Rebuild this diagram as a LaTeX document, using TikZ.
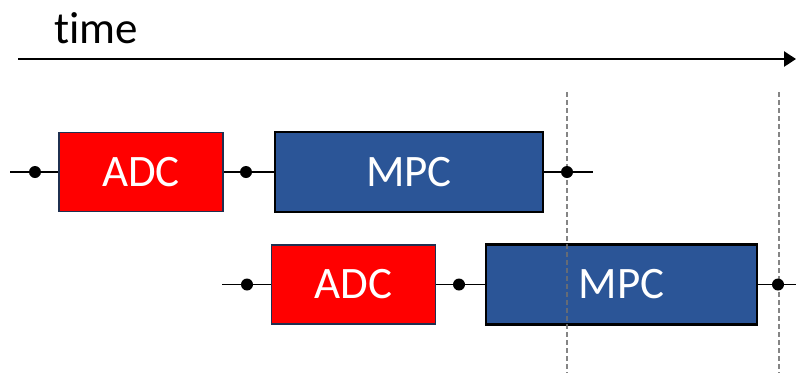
\documentclass[tikz,border=0pt]{standalone}
\usepackage{fontspec}
\setmainfont{Carlito}[Ligatures=NoCommon]
\usetikzlibrary{arrows.meta}
\definecolor{adcred}{HTML}{FF0000}
\definecolor{adcedge}{HTML}{1F3050}
\definecolor{mpcblue}{HTML}{2B5597}
\definecolor{guide}{HTML}{707070}
\tikzset{
  x=1pt, y=-1pt,
  adcbox/.style={draw=adcedge, line width=1.6pt, fill=adcred, text=white,
    minimum width=164pt, minimum height=79pt, inner sep=0pt,
    font=\fontsize{45}{50}\selectfont},
  mpcbox/.style={draw=black, line width=2.2pt, fill=mpcblue, text=white,
    minimum height=80pt, inner sep=0pt, font=\fontsize{45}{50}\selectfont},
  link/.style={line width=1.3pt},
  dotnode/.style={circle, fill=black, inner sep=0pt, minimum size=12pt},
  guideline/.style={draw=guide, line width=1.4pt, dash pattern=on 5pt off 3pt, opacity=0.85},
}
\begin{document}
\begin{tikzpicture}
\useasboundingbox (0,0) rectangle (796,373);

% time axis
\node[anchor=base west, inner sep=0pt, font=\fontsize{45}{50}\selectfont] (tlabel) at (54,43) {time};
\coordinate (t0) at (18,59);
\coordinate (t1) at (796,59);
\draw[line width=2.8pt, -{Triangle[length=12pt,width=15pt]}] (t0) -- (t1);

% blocks of the two cycles
\node[adcbox] (adc1) at (141,172) {ADC};
\node[mpcbox, minimum width=268pt] (mpc1) at (409,172) {MPC};
\node[adcbox] (adc2) at (353.5,284.5) {ADC};
\node[mpcbox, minimum width=271pt] (mpc2) at (621.5,284.5) {MPC};

% sampling instants
\coordinate (g1t) at (567,92);
\coordinate (g1b) at (567,373);
\coordinate (g2t) at (779,92);
\coordinate (g2b) at (779,373);
\draw[guideline] (g1t) -- (g1b);
\draw[guideline] (g2t) -- (g2b);

% first cycle connectors
\coordinate (a1) at (10,172);
\coordinate (e1) at (593,172);
\draw[link] (a1) -- (adc1.west);
\draw[link] (adc1.east) -- (mpc1.west);
\draw[link] (mpc1.east) -- (e1);
\node[dotnode] (d1) at (35,172) {};
\node[dotnode] (d2) at (246,172) {};
\node[dotnode] (d3) at (567,172) {};

% second cycle connectors
\coordinate (a2) at (222,284.5);
\coordinate (e2) at (796,284.5);
\draw[link] (a2) -- (adc2.west);
\draw[link] (adc2.east) -- (mpc2.west);
\draw[link] (mpc2.east) -- (e2);
\node[dotnode] (d4) at (247,284.5) {};
\node[dotnode] (d5) at (459,284.5) {};
\node[dotnode] (d6) at (778,284.5) {};
\end{tikzpicture}
\end{document}
